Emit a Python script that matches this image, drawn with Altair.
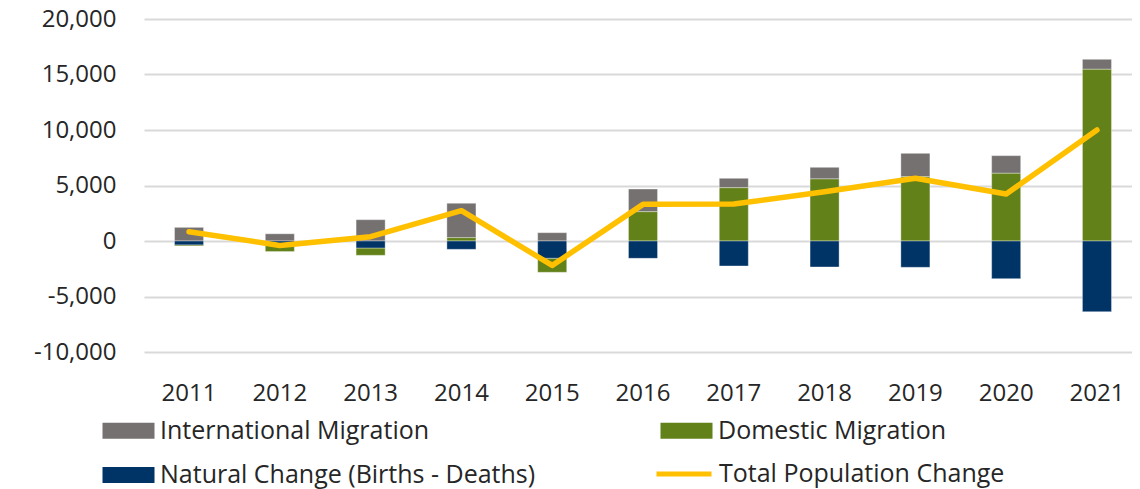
import altair as alt
import pandas as pd

years = ["2011", "2012", "2013", "2014", "2015", "2016", "2017", "2018", "2019", "2020", "2021"]
international = [1230, 650, 1920, 3100, 750, 2040, 850, 1050, 2110, 1590, 900]
domestic = [-100, -700, -660, 300, -1270, 2640, 4800, 5590, 5790, 6100, 15470]
natural = [-350, -250, -630, -750, -1550, -1560, -2250, -2340, -2370, -3390, -6370]
total = [840, -400, 390, 2730, -2200, 3300, 3330, 4440, 5650, 4230, 10000]

# legend order (column-major in a 2-column grid): International, Natural | Domestic
series_names = ["International Migration", "Natural Change (Births - Deaths)", "Domestic Migration"]
series_colors = ["#767171", "#003366", "#638119"]
stack_order = {"Natural Change (Births - Deaths)": 0, "Domestic Migration": 1, "International Migration": 2}
line_name = "Total Population Change"
line_color = "#FFC000"

rows = []
for name, vals in zip(["International Migration", "Domestic Migration", "Natural Change (Births - Deaths)"],
                      [international, domestic, natural]):
    for yr, v in zip(years, vals):
        rows.append({"year": yr, "series": name, "value": v, "ord": stack_order[name]})
bars_df = pd.DataFrame(rows)
line_df = pd.DataFrame({"year": years, "value": total, "series": [line_name] * len(years)})

FONT = "Open Sans"
TXT = "#262626"

x_scale = alt.Scale(domain=years, paddingInner=0.68, paddingOuter=0.336, range=[0, 998])
x_enc = alt.X(
    "year:N",
    sort=years,
    title=None,
    scale=x_scale,
    axis=alt.Axis(labelAngle=0, domain=False, ticks=False, labelPadding=29,
                  labelFontSize=24, labelFont=FONT, labelColor=TXT, grid=False),
)
y_scale = alt.Scale(domain=[-10000, 20000], nice=False)
y_axis = alt.Axis(values=[-10000, -5000, 0, 5000, 10000, 15000, 20000], format=",.0f",
                  labelExpr="replace(datum.label, '\u2212', '-')",
                  domain=False, ticks=False, labelPadding=28, labelFontSize=24,
                  labelFont=FONT, labelColor=TXT, gridColor="#d9d9d9", gridWidth=2)

bars = alt.Chart(bars_df).mark_bar(stroke="#ffffff", strokeWidth=0.6, strokeOpacity=0.6).encode(
    x=x_enc,
    y=alt.Y("value:Q", stack="zero", title=None, scale=y_scale, axis=y_axis),
    fill=alt.Fill(
        "series:N",
        scale=alt.Scale(domain=series_names, range=series_colors),
        legend=alt.Legend(
            title=None, orient="none", legendX=-44, legendY=399, columns=2,
            columnPadding=122, rowPadding=18.5, padding=0,
            symbolType="M-1,-0.8H4.2V0.8H-1Z", symbolSize=400, symbolStrokeWidth=0,
            labelOffset=35, labelFontSize=25, labelFont=FONT, labelColor=TXT, labelLimit=0,
        ),
    ),
    order=alt.Order("ord:Q", sort="ascending"),
)

line = alt.Chart(line_df).mark_line(strokeWidth=5.5, strokeCap="round", strokeJoin="round").encode(
    x=alt.X("year:N", sort=years),
    y=alt.Y("value:Q"),
    stroke=alt.Stroke(
        "series:N",
        scale=alt.Scale(domain=[line_name], range=[line_color]),
        legend=alt.Legend(
            title=None, orient="none", legendX=510, legendY=425, padding=0,
            symbolType="stroke", symbolSize=3025, symbolStrokeWidth=5,
            labelOffset=5, labelFontSize=25, labelFont=FONT, labelColor=TXT, labelLimit=0,
        ),
    ),
)

chart = alt.layer(bars, line).properties(
    width=988,
    height=333,
    autosize=alt.AutoSizeParams(type="none"),
    padding={"left": 136, "top": 11, "right": 0, "bottom": 137},
).configure_view(stroke=None)

chart.save("out.html", embed_options={"renderer": "svg", "actions": False})
